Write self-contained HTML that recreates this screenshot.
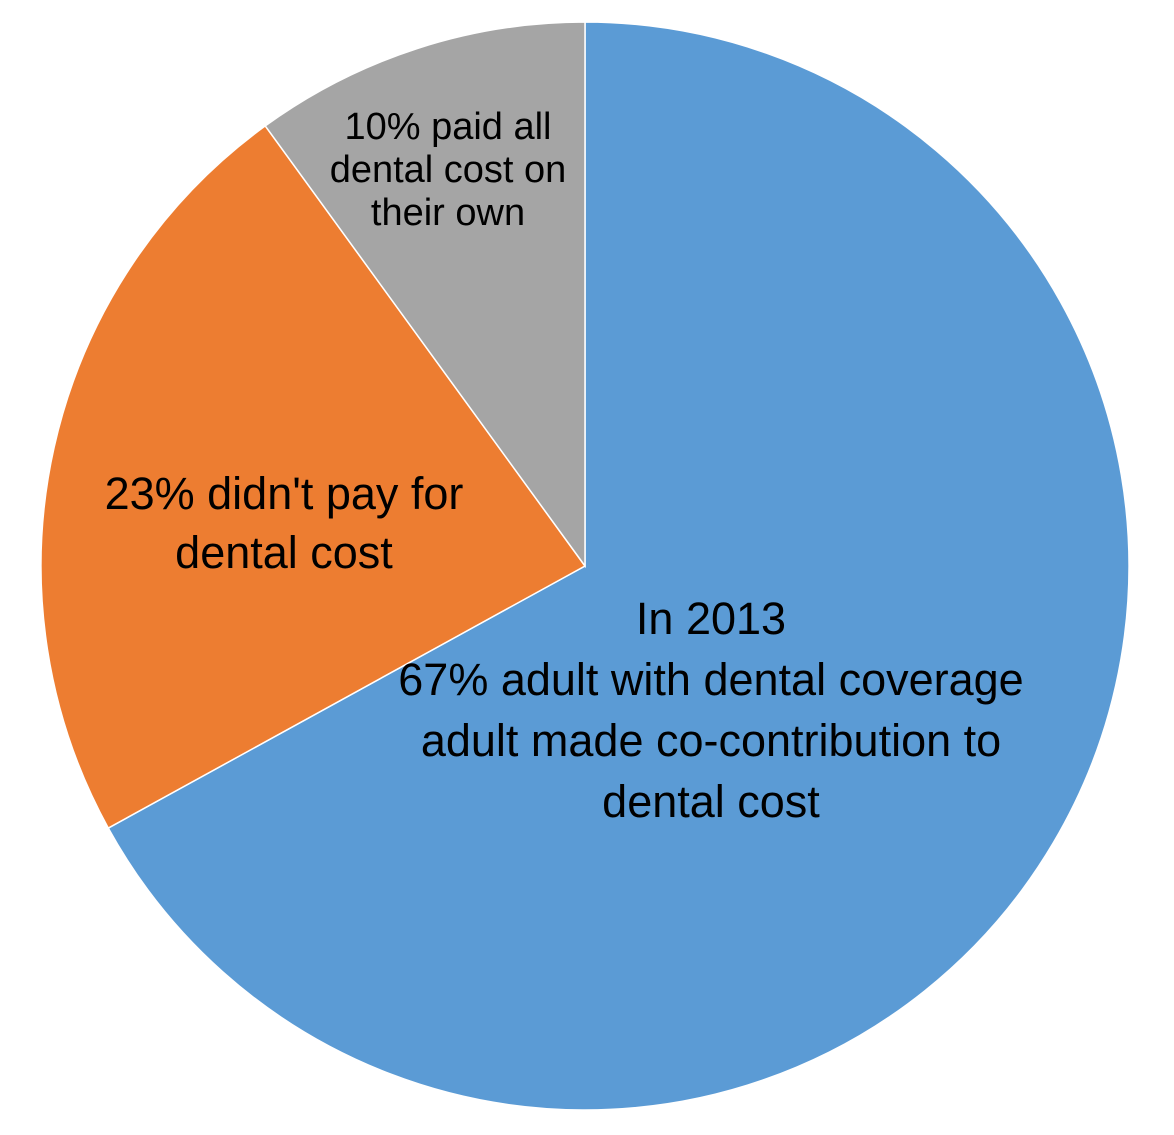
<!DOCTYPE html>
<html><head><meta charset="utf-8"><style>
html,body{margin:0;padding:0;background:#fff;}
svg{display:block;}
text{font-family:"Liberation Sans",sans-serif;fill:#000;}
</style></head><body>
<svg id="chart" width="1174" height="1135" viewBox="0 0 1174 1135"></svg>
<script>
const categories = ["co-contribution", "didn't pay", "paid all"];
const values = [67, 23, 10];
const colors = ["#5B9BD5", "#ED7D31", "#A5A5A5"];
const labelLines = [
  ["In 2013", "67% adult with dental coverage", "adult made co-contribution to", "dental cost"],
  ["23% didn't pay for", "dental cost"],
  ["10% paid all", "dental cost on", "their own"]
];
const cx = 585, cy = 566, r = 544;
const svg = document.getElementById('chart');
const NS = 'http://www.w3.org/2000/svg';
const total = values.reduce((a,b)=>a+b,0);
function pt(frac, rad){const a=frac*2*Math.PI;return [cx+rad*Math.sin(a), cy-rad*Math.cos(a)];}
let acc = 0;
values.forEach((v,i)=>{
  const f0 = acc/total, f1=(acc+v)/total; acc+=v;
  const [x0,y0]=pt(f0,r),[x1,y1]=pt(f1,r);
  const large=(f1-f0)>0.5?1:0;
  const p=document.createElementNS(NS,'path');
  p.setAttribute('d',`M${cx},${cy} L${x0},${y0} A${r},${r} 0 ${large} 1 ${x1},${y1} Z`);
  p.setAttribute('fill',colors[i]);
  p.setAttribute('stroke','#fff');
  p.setAttribute('stroke-width','1.5');
  
  
  svg.appendChild(p);
});
const labelPos = [[711, 634, 45, 61], [284, 509, 45, 59], [448, 139, 38, 43]];
labelLines.forEach((lines,i)=>{
  const [x,y,fs,lh]=labelPos[i];
  const t=document.createElementNS(NS,'text');
  t.setAttribute('x',x);t.setAttribute('y',y);
  t.setAttribute('font-size',fs);t.setAttribute('text-anchor','middle');
  
  
  lines.forEach((l,j)=>{
    const s=document.createElementNS(NS,'tspan');
    s.setAttribute('x',x);s.setAttribute('dy',j===0?0:lh);
    s.textContent=l;t.appendChild(s);
  });
  svg.appendChild(t);
});
</script>
</body></html>
